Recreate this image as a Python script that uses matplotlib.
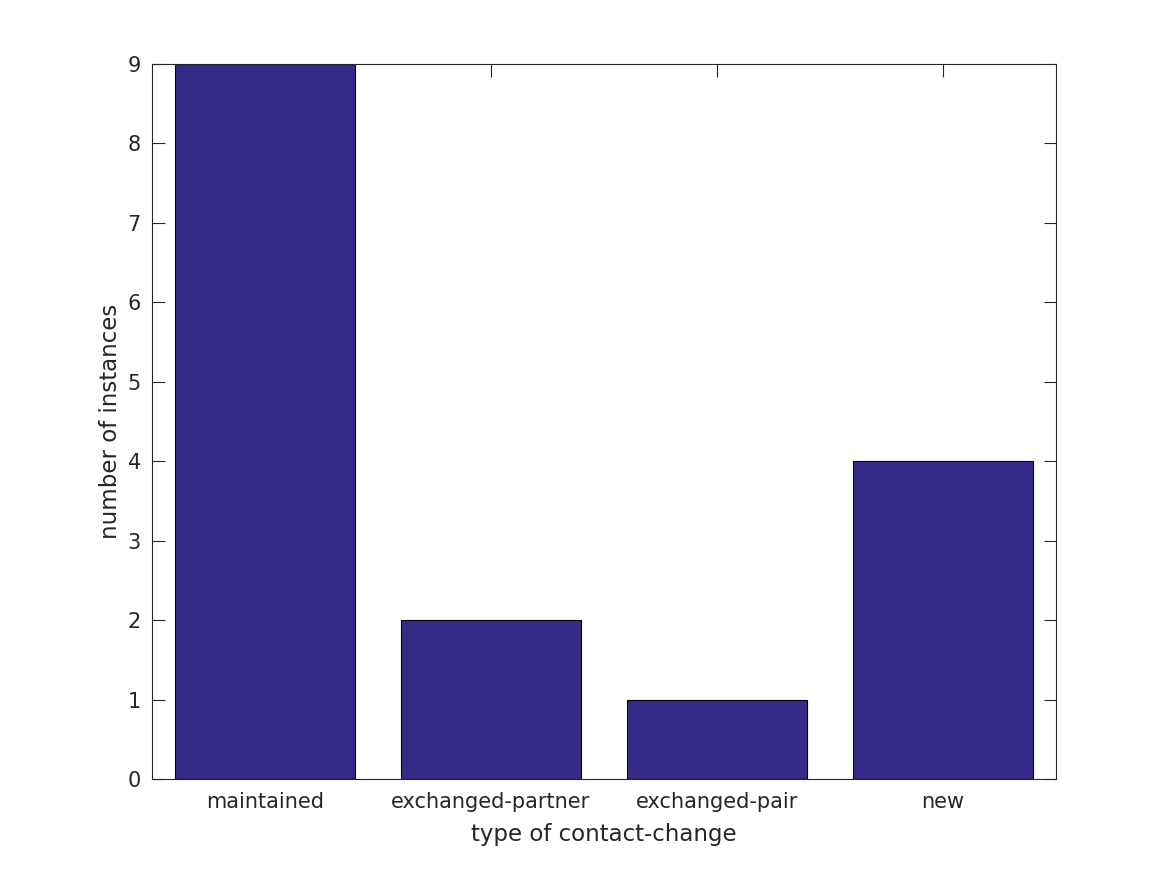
import numpy as np
import matplotlib
matplotlib.use("Agg")
import matplotlib.pyplot as plt

categories = ["maintained", "exchanged-partner", "exchanged-pair", "new"]
counts = [9, 2, 1, 4]

fig = plt.figure(figsize=(11.67, 8.75), dpi=100)
ax = fig.add_axes([152 / 1167, 1 - 779 / 875, (1056 - 152) / 1167, (779 - 64) / 875])

x = np.arange(1, len(categories) + 1)
ax.bar(x, counts, width=0.8, color="#352A87", edgecolor="black", lw=0.8, zorder=2)

ax.set_xlim(0.5, 4.5)
ax.set_ylim(0, 9)
ax.set_xticks(x)
ax.set_xticklabels(categories)
ax.set_yticks(range(0, 10))
ax.set_xlabel("type of contact-change", fontsize=16.5, color="#262626", labelpad=8.5)
ax.set_ylabel("number of instances", fontsize=16.5, color="#262626")
ax.tick_params(direction="in", length=9, width=0.8, colors="#262626",
               labelsize=15, top=True, right=True, pad=8)
ax.tick_params(axis="x", pad=9)
for s in ax.spines.values():
    s.set_color("#262626")
    s.set_linewidth(0.8)

fig.savefig("out.png", dpi=100)
